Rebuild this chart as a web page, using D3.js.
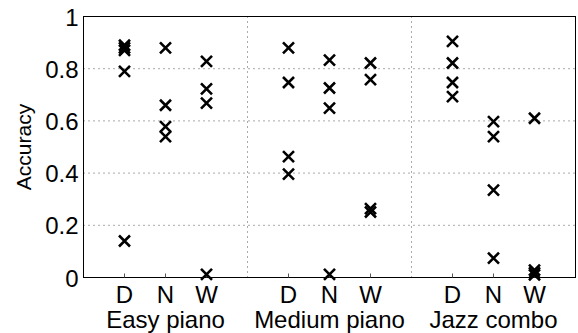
<!DOCTYPE html>
<html>
<head>
<meta charset="utf-8">
<script src="https://cdn.jsdelivr.net/npm/d3@7"></script>
<style>
  body { margin: 0; background: #fff; }
  text { font-family: "Liberation Sans", Arial, sans-serif; fill: #000; }
</style>
</head>
<body>
<svg id="chart" width="578" height="333"></svg>
<script>
// groupes et conditions
const groups = ["Easy piano", "Medium piano", "Jazz combo"];
const conditions = ["D", "N", "W"];
const yTicks = [0, 0.2, 0.4, 0.6, 0.8, 1];

// valeurs (une liste par groupe, une sous-liste par condition)
const easyPiano = [
  [0.89, 0.88, 0.87, 0.79, 0.14],
  [0.88, 0.66, 0.578, 0.54],
  [0.828, 0.723, 0.668, 0.012]
];
const mediumPiano = [
  [0.88, 0.747, 0.463, 0.396],
  [0.833, 0.726, 0.649, 0.012],
  [0.822, 0.758, 0.264, 0.251]
];
const jazzCombo = [
  [0.905, 0.822, 0.747, 0.693],
  [0.597, 0.540, 0.335, 0.074],
  [0.610, 0.028, 0.018, 0.010]
];
const allGroups = [easyPiano, mediumPiano, jazzCombo];

const svg = d3.select("#chart");
const margin = {left: 83.5, right: 2.5, top: 16.5, bottom: 55.5};
const W = 578, H = 333;

const x = d3.scaleLinear().domain([0, 12]).range([margin.left, W - margin.right]);
const y = d3.scaleLinear().domain([0, 1]).range([H - margin.bottom, margin.top]);

// position d'une condition dans un groupe
const pos = (g, c) => g * 4 + c + 1;

// grille horizontale en pointillés
svg.append("g").selectAll("line")
  .data(yTicks.filter(d => d > 0 && d < 1))
  .join("line")
  .attr("x1", x(0)).attr("x2", x(12))
  .attr("y1", d => y(d)).attr("y2", d => y(d))
  .attr("stroke", "#555").attr("stroke-width", 1)
  .attr("stroke-dasharray", "1,4");

// séparateurs verticaux entre les groupes
svg.append("g").selectAll("line")
  .data([4, 8])
  .join("line")
  .attr("x1", d => x(d)).attr("x2", d => x(d))
  .attr("y1", y(0)).attr("y2", y(1))
  .attr("stroke", "#555").attr("stroke-width", 1)
  .attr("stroke-dasharray", "1,4");

// cadre
svg.append("rect")
  .attr("x", x(0)).attr("y", y(1))
  .attr("width", x(12) - x(0)).attr("height", y(0) - y(1))
  .attr("fill", "none").attr("stroke", "#000").attr("stroke-width", 1);

// graduations x (en bas, vers l'intérieur)
const xTickPos = [];
groups.forEach((g, gi) => conditions.forEach((c, ci) => xTickPos.push({g: gi, c: ci, label: c})));
const tickLen = 4;
svg.append("g").selectAll("line")
  .data(xTickPos)
  .join("line")
  .attr("x1", d => x(pos(d.g, d.c))).attr("x2", d => x(pos(d.g, d.c)))
  .attr("y1", y(0)).attr("y2", y(0) - tickLen)
  .attr("stroke", "#555");

// étiquettes y
svg.append("g").selectAll("text")
  .data(yTicks)
  .join("text")
  .attr("x", x(0) - 5)
  .attr("y", d => y(d) + 9)
  .attr("text-anchor", "end")
  .attr("font-size", 24)
  .text(d => d3.format("~g")(d));

svg.append("text")
  .attr("transform", `translate(31,${(y(0) + y(1)) / 2}) rotate(-90)`)
  .attr("text-anchor", "middle")
  .attr("font-size", 21)
  .text("Accuracy");

// étiquettes x
svg.append("g").selectAll("text")
  .data(xTickPos)
  .join("text")
  .attr("x", d => x(pos(d.g, d.c)))
  .attr("y", 303)
  .attr("text-anchor", "middle")
  .attr("font-size", 24)
  .text(d => d.label);

svg.append("g").selectAll("text")
  .data(groups)
  .join("text")
  .attr("x", (d, i) => x(pos(i, 1)))
  .attr("y", 328)
  .attr("text-anchor", "middle")
  .attr("font-size", 24)
  .text(d => d);

// points (croix)
const points = [];
allGroups.forEach((grp, gi) => grp.forEach((vals, ci) => vals.forEach(v => points.push({g: gi, c: ci, v: v}))));
const s = 5.5;
svg.append("g").selectAll("path")
  .data(points)
  .join("path")
  .attr("d", d => {
    const cx = x(pos(d.g, d.c)), cy = y(d.v);
    return `M${cx - s},${cy - s}L${cx + s},${cy + s}M${cx - s},${cy + s}L${cx + s},${cy - s}`;
  })
  .attr("stroke", "#000")
  .attr("stroke-width", 2.6)
  .attr("fill", "none");
</script>
</body>
</html>
